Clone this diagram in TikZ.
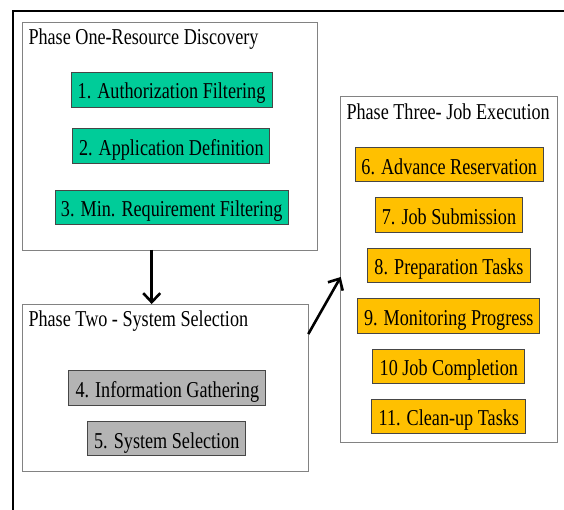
\documentclass[tikz,border=0pt]{standalone}
\usepackage{fontspec}
\setmainfont[FakeStretch=0.80]{Liberation Serif}
\usetikzlibrary{arrows.meta}
\definecolor{teal1}{RGB}{0,204,153}
\definecolor{gold1}{RGB}{255,192,0}
\definecolor{gray1}{RGB}{180,180,180}
\definecolor{frame1}{RGB}{130,130,130}
\definecolor{edge1}{RGB}{70,70,70}
\begin{document}
\begin{tikzpicture}[x=1pt,y=-1pt,
  every node/.style={font=\fontsize{22.7}{26}\selectfont, inner sep=0pt, outer sep=0pt},
  phasebox/.style={draw=frame1, line width=0.9pt, fill=white, rectangle},
  taskbox/.style={draw=edge1, line width=0.8pt, rectangle, align=center, text height=19pt, text depth=0pt},
  tealbox/.style={taskbox, fill=teal1},
  goldbox/.style={taskbox, fill=gold1},
  graybox/.style={taskbox, fill=gray1},
  title/.style={anchor=base west},
  arr/.style={line width=2.6pt, -{Straight Barb[length=9pt,width=17pt]}}
]
\useasboundingbox (0,0) rectangle (564,510);
\fill[white] (0,0) rectangle (564,510);
% outer frame (top and left visible)
\draw[line width=1.3pt] (13,510) -- (13,11) -- (564,11);

% Phase boxes
\node[phasebox, minimum width=295pt, minimum height=228pt] (p1) at (170.2,136) {};
\node[phasebox, minimum width=285.6pt, minimum height=167.7pt] (p2) at (165.5,387.9) {};
\node[phasebox, minimum width=216.6pt, minimum height=346pt] (p3) at (449,269.7) {};

% Titles
\node[title] (t1) at (28.5,45) {Phase One-Resource Discovery};
\node[title] (t2) at (28.5,326.5) {Phase Two - System Selection};
\node[title] (t3) at (346.5,120) {Phase Three- Job Execution};

% Phase one tasks
\node[tealbox, minimum width=201pt, minimum height=35pt] (b1) at (171.5,89.5) {1. Authorization Filtering};
\node[tealbox, minimum width=197pt, minimum height=35pt] (b2) at (171.3,145.8) {2. Application Definition};
\node[tealbox, minimum width=233pt, minimum height=34pt] (b3) at (171.7,207.2) {3. Min. Requirement Filtering};

% Phase two tasks
\node[graybox, minimum width=197pt, minimum height=35pt] (b4) at (167.3,388.3) {4. Information Gathering};
\node[graybox, minimum width=158pt, minimum height=34pt] (b5) at (166.8,438.8) {5. System Selection};

% Phase three tasks
\node[goldbox, minimum width=188pt, minimum height=34pt] (b6) at (449.2,164.7) {6. Advance Reservation};
\node[goldbox, minimum width=147pt, minimum height=35pt] (b7) at (449,215) {7. Job Submission};
\node[goldbox, minimum width=163pt, minimum height=34pt] (b8) at (449,265.5) {8. Preparation Tasks};
\node[goldbox, minimum width=182pt, minimum height=35pt] (b9) at (448.8,315.8) {9. Monitoring Progress};
\node[goldbox, minimum width=152pt, minimum height=34pt] (b10) at (448.8,366.2) {10 Job Completion};
\node[goldbox, minimum width=154pt, minimum height=34pt] (b11) at (448.8,416.2) {11. Clean-up Tasks};

% Connectors
\coordinate (s1) at (151.7,0);
\draw[arr] (p1.south -| s1) -- (p2.north -| s1);
\coordinate (s2) at (0,334);
\coordinate (e2) at (0,277);
\draw[arr] (p2.east |- s2) -- (p3.west |- e2);
\end{tikzpicture}
\end{document}
